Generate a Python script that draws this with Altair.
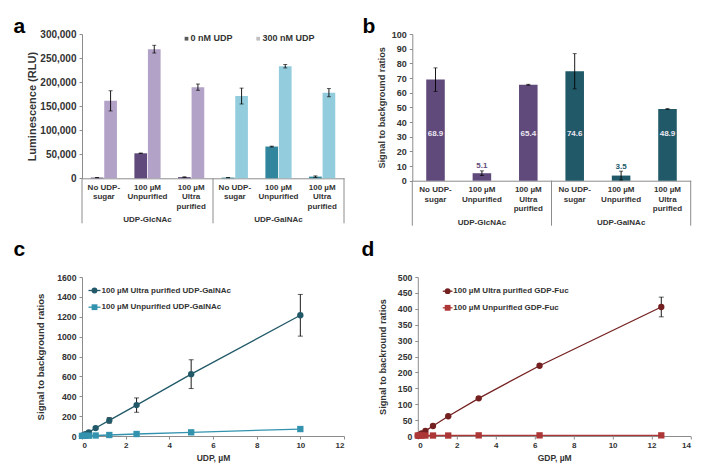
import altair as alt
import pandas as pd

FONT = "Liberation Sans"
TXT = "#333333"
AX = "#8c8c8c"

# ---------------- data ----------------
groups = ["UDP-GlcNAc", "UDP-GalNAc"]
conditions = ["No UDP-|sugar", "100 µM|Unpurified", "100 µM|Ultra|purified"]

series_a = ["0 nM UDP", "300 nM UDP"]
a_0nm = [1500, 52000, 2500, 1500, 66000, 3500]
a_0nm_err = [300, 600, 500, 300, 900, 1500]
a_300nm = [161000, 268500, 189500, 171000, 233000, 178000]
a_300nm_err = [21000, 8000, 6500, 16500, 3500, 8500]
a_colors_0nm = ["#604A7B", "#31859C"]
a_colors_300nm = ["#B3A2C7", "#93CDDD"]
a_legend_colors = ["#595959", "#BFBFBF"]

b_ratio = [68.9, 5.1, 65.4, 74.6, 3.5, 48.9]
b_err = [8.0, 1.6, 0.3, 12.0, 3.0, 0.2]
b_colors = ["#604A7B", "#215968"]

c_series = ["100 µM Ultra purified UDP-GalNAc", "100 µM Unpurified UDP-GalNAc"]
c_x = [0, 0.078, 0.156, 0.3125, 0.625, 1.25, 2.5, 5, 10]
c_ultra = [1, 9, 18, 37, 80, 157, 311, 622, 1215]
c_ultra_err = [0, 1, 2, 4, 10, 28, 72, 145, 210]
c_unpur = [1, 1.5, 2, 3, 5, 10, 20, 37, 70]
c_unpur_err = [0, 0, 0, 0, 0, 0, 0, 0, 0]
c_colors = ["#215968", "#3393AE"]

d_series = ["100 µM Ultra purified GDP-Fuc", "100 µM Unpurified GDP-Fuc"]
d_x = [0, 0.098, 0.195, 0.39, 0.78, 1.5625, 3.125, 6.25, 12.5]
d_ultra = [1, 4, 8, 16, 31.5, 62, 118.5, 221, 405.7]
d_ultra_err = [0, 0, 0.5, 1, 2, 3, 3, 4, 31]
d_unpur = [1.5, 1.5, 1.5, 1.5, 1.5, 1.5, 2, 2, 2]
d_unpur_err = [0, 0, 0, 0, 0, 0, 0, 0, 0]
d_colors = ["#752020", "#AD3737"]

cat_order = [f"{g}|{c}" for g in groups for c in conditions]

# ---------------- helpers ----------------
def y_axis(values, fmt, title, label_size, title_size, title_x, H):
    return alt.Axis(values=values, format=fmt, title=title, domainColor=AX,
                    tickColor=AX, tickSize=3, labelFont=FONT, labelFontWeight="bold",
                    labelFontSize=label_size, labelColor=TXT, labelPadding=3,
                    titleFont=FONT, titleFontWeight="bold", titleFontSize=title_size,
                    titleColor=TXT, titleAngle=-90, titleX=title_x, titleY=H / 2,
                    titleAlign="center", titleBaseline="middle")


def cat_axis():
    return alt.Axis(title=None, labelExpr="slice(split(datum.label, '|'), 1)",
                    labelAngle=0, ticks=False, domainColor=AX, labelFont=FONT,
                    labelFontWeight="bold", labelFontSize=8, labelColor=TXT,
                    labelLineHeight=9.6, labelPadding=5, labelOverlap=False,
                    labelBaseline="top")


def separators(H):
    n = len(conditions)
    sep_df = pd.DataFrame({"pos": [k * n for k in range(len(groups) + 1)]})
    grp_df = pd.DataFrame({"group": groups, "mid": [(k + 0.5) * n for k in range(len(groups))]})
    sc = alt.Scale(domain=[0, len(cat_order)], nice=False, zero=False)
    sep = alt.Chart(sep_df).mark_rule(color=AX, strokeWidth=1).encode(
        x=alt.X("pos:Q", scale=sc, axis=None), y=alt.value(H), y2=alt.value(H + 45))
    grp = alt.Chart(grp_df).mark_text(font=FONT, fontWeight="bold", fontSize=8,
                                      color=TXT, baseline="middle").encode(
        x=alt.X("mid:Q", scale=sc, axis=None), y=alt.value(H + 42), text="group:N")
    return alt.layer(sep, grp)


def letter(t, dx, dy):
    return alt.Chart(pd.DataFrame({"t": [t]})).mark_text(
        font=FONT, fontWeight="bold", fontSize=21, color="#000000",
        align="left", baseline="alphabetic").encode(
        x=alt.value(dx), y=alt.value(dy), text="t:N")


def err_layers(base, x, y_fn, xoff=None, cap=4, orient=None):
    e = base.transform_filter("datum.err > 0").transform_calculate(
        lo="datum.value - datum.err", hi="datum.value + datum.err")
    enc = {"x": x}
    if xoff is not None:
        enc["xOffset"] = xoff
    rule = e.mark_rule(color="#000000", strokeWidth=0.9).encode(y=y_fn("lo:Q"), y2="hi:Q", **enc)
    tk = {"color": "#000000", "thickness": 0.9, "size": cap}
    if orient:
        tk["orient"] = orient
    lo = e.mark_tick(**tk).encode(y=y_fn("lo:Q"), **enc)
    hi = e.mark_tick(**tk).encode(y=y_fn("hi:Q"), **enc)
    return [rule, lo, hi]


# ---------------- panel a ----------------
W_A, H_A = 262, 144.3
rows = []
for gi, g in enumerate(groups):
    for ci, c in enumerate(conditions):
        i = gi * len(conditions) + ci
        rows.append({"cat": f"{g}|{c}", "ckey": f"{g}|{series_a[0]}", "series": series_a[0],
                     "value": a_0nm[i], "err": a_0nm_err[i]})
        rows.append({"cat": f"{g}|{c}", "ckey": f"{g}|{series_a[1]}", "series": series_a[1],
                     "value": a_300nm[i], "err": a_300nm_err[i]})
dfa = pd.DataFrame(rows)
ckeys = [f"{g}|{s}" for g in groups for s in series_a]
crange = [a_colors_0nm[0], a_colors_300nm[0], a_colors_0nm[1], a_colors_300nm[1]]

xa = alt.X("cat:N", sort=cat_order, scale=alt.Scale(paddingInner=0.4, paddingOuter=0.2),
           axis=cat_axis())
xoff_a = alt.XOffset("series:N", sort=series_a, scale=alt.Scale(paddingInner=0.06))


def ya(f):
    return alt.Y(f, scale=alt.Scale(domain=[0, 300000], nice=False),
                 axis=y_axis(list(range(0, 300001, 50000)), ",.0f", "Luminescence (RLU)",
                             10, 11, -49.5, H_A))


base_a = alt.Chart(dfa)
bars_a = base_a.mark_bar().encode(
    x=xa, xOffset=xoff_a, y=ya("value:Q"),
    color=alt.Color("ckey:N", scale=alt.Scale(domain=ckeys, range=crange), legend=None))
inner_a = alt.layer(bars_a, *err_layers(base_a, xa, ya, xoff_a, cap=4))

leg_a = []
leg_sq_x = [104.5, 176.2]
leg_tx_x = [108.5, 180.5]
for k, s in enumerate(series_a):
    d1 = pd.DataFrame({"label": [s]})
    leg_a.append(alt.Chart(d1).mark_square(size=14, color=a_legend_colors[k], opacity=1).encode(
        x=alt.value(leg_sq_x[k]), y=alt.value(4.7)))
    leg_a.append(alt.Chart(d1).mark_text(font=FONT, fontWeight="bold", fontSize=9, color=TXT,
                                         align="left", baseline="middle").encode(
        x=alt.value(leg_tx_x[k]), y=alt.value(4.2), text="label:N"))

panel_a = alt.layer(inner_a, separators(H_A), *leg_a, letter("a", -68.5, -1)).resolve_scale(
    x="independent").properties(width=W_A, height=H_A)

# ---------------- panel b ----------------
W_B, H_B = 278.4, 146.7
dfb = pd.DataFrame({
    "cat": cat_order,
    "group": [g for g in groups for _ in conditions],
    "value": b_ratio,
    "err": b_err,
})
xb = alt.X("cat:N", sort=cat_order, scale=alt.Scale(paddingInner=0.6, paddingOuter=0.3),
           axis=cat_axis())


def yb(f):
    return alt.Y(f, scale=alt.Scale(domain=[0, 100], nice=False),
                 axis=y_axis(list(range(0, 101, 10)), "d", "Signal to background ratios",
                             9, 9.2, -30.8, H_B))


bcol = alt.Color("group:N", scale=alt.Scale(domain=groups, range=b_colors), legend=None)
base_b = alt.Chart(dfb)
bars_b = base_b.mark_bar().encode(x=xb, y=yb("value:Q"), color=bcol)
lab = base_b.transform_calculate(
    ly="datum.value > 20 ? 31.5 : datum.value + datum.err + 3",
    txt="format(datum.value, '.1f')")
lab_in = lab.transform_filter("datum.value > 20").mark_text(
    font=FONT, fontWeight="bold", fontSize=8, color="#ECE8F2", baseline="middle").encode(
    x=xb, y=yb("ly:Q"), text="txt:N")
lab_out = lab.transform_filter("datum.value <= 20").mark_text(
    font=FONT, fontWeight="bold", fontSize=8, baseline="middle").encode(
    x=xb, y=yb("ly:Q"), text="txt:N", color=bcol)
inner_b = alt.layer(bars_b, *err_layers(base_b, xb, yb, None, cap=4), lab_in, lab_out)
panel_b = alt.layer(inner_b, separators(H_B), letter("b", -49.8, -0.7)).resolve_scale(
    x="independent").properties(width=W_B, height=H_B)


# ---------------- panels c, d ----------------
def line_panel(series, xs, ys_list, errs_list, colors, xmax, ymax, ystep, xtitle, ytitle,
               W, H, title_x, ytitle_size, leg_pos, let, let_pos):
    rows = []
    for s, ys, es in zip(series, ys_list, errs_list):
        for xv, yv, ev in zip(xs, ys, es):
            rows.append({"series": s, "x": xv, "value": yv, "err": ev})
    df = pd.DataFrame(rows)
    xe = alt.X("x:Q", scale=alt.Scale(domain=[0, xmax], nice=False),
               axis=alt.Axis(values=list(range(0, xmax + 1, 2)), title=xtitle, domainColor=AX,
                             tickColor=AX, tickSize=3, labelFont=FONT, labelFontWeight="bold",
                             labelFontSize=8, labelColor=TXT, labelPadding=2,
                             titleFont=FONT, titleFontWeight="bold", titleFontSize=8.5,
                             titleColor=TXT, titlePadding=4))

    def ye(f):
        return alt.Y(f, scale=alt.Scale(domain=[0, ymax], nice=False),
                     axis=y_axis(list(range(0, ymax + 1, ystep)), "d", ytitle, 8.7,
                                 ytitle_size, title_x, H))

    col = alt.Color("series:N", scale=alt.Scale(domain=series, range=colors), legend=None)
    base = alt.Chart(df)
    lines = base.mark_line(strokeWidth=1.3).encode(x=xe, y=ye("value:Q"), color=col)
    errs = err_layers(base, xe, ye, None, cap=5, orient="horizontal")
    pts = base.mark_point(filled=True, size=40, opacity=1).encode(
        x=xe, y=ye("value:Q"), color=col,
        shape=alt.Shape("series:N", scale=alt.Scale(domain=series, range=["circle", "square"]),
                        legend=None))
    legs = []
    shapes = ["circle", "square"]
    lx0, lx1, tx, ly = leg_pos
    for k, s in enumerate(series):
        d1 = pd.DataFrame({"label": [s]})
        yy = ly[k]
        legs.append(alt.Chart(d1).mark_rule(color=colors[k], strokeWidth=1.3).encode(
            x=alt.value(lx0), x2=alt.value(lx1), y=alt.value(yy)))
        legs.append(alt.Chart(d1).mark_point(shape=shapes[k], filled=True, size=34,
                                             color=colors[k], opacity=1).encode(
            x=alt.value((lx0 + lx1) / 2), y=alt.value(yy)))
        legs.append(alt.Chart(d1).mark_text(font=FONT, fontWeight="bold", fontSize=8,
                                            color=TXT, align="left", baseline="middle").encode(
            x=alt.value(tx), y=alt.value(yy), text="label:N"))
    return alt.layer(lines, *errs, pts, *legs, letter(let, *let_pos)).properties(
        width=W, height=H)


W_C, H_C = 262, 159
panel_c = line_panel(c_series, c_x, [c_ultra, c_unpur], [c_ultra_err, c_unpur_err], c_colors,
                     12, 1600, 200, "UDP, µM", "Signal to background ratios", W_C, H_C,
                     -42, 9.6, (6.5, 18.5, 19.5, [13.5, 30.2]), "c", (-68.5, -20.8))

W_D, H_D = 272.7, 159
panel_d = line_panel(d_series, d_x, [d_ultra, d_unpur], [d_ultra_err, d_unpur_err], d_colors,
                     14, 500, 50, "GDP, µM", "Signal to backround ratios", W_D, H_D,
                     -35.6, 9.2, (25, 34.7, 35.5, [14.2, 30.8]), "d", (-56.3, -20.8))

top = alt.hconcat(panel_a, panel_b, spacing=68.3, bounds="flush").resolve_scale(
    color="independent", shape="independent")
bottom = alt.hconcat(panel_c, panel_d, spacing=73.8, bounds="flush").resolve_scale(
    color="independent", shape="independent")
chart = alt.vconcat(top, bottom, spacing=12).resolve_scale(
    color="independent", shape="independent").properties(
    padding={"left": 5, "top": 8, "right": 5, "bottom": 5}
).configure_view(stroke=None).configure_axis(grid=False)

chart.save("out.html", embed_options={"renderer": "svg", "actions": False})
